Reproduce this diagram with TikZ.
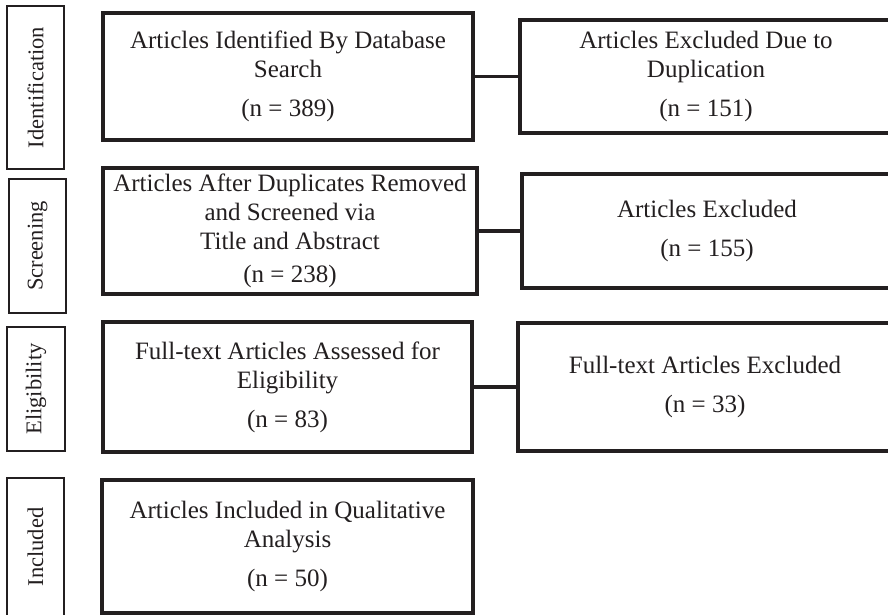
\documentclass[tikz,border=0pt]{standalone}
\usepackage{fontspec}
\setmainfont{Liberation Serif}
\definecolor{ink}{HTML}{231F20}
\begin{document}
\begin{tikzpicture}[x=1pt,y=-1pt,
  stage/.style={draw=ink, line width=1.2pt, rotate=90, inner sep=0pt, font=\fontsize{22.5}{26}\selectfont, text=ink},
  mainbox/.style={draw=ink, line width=3.5pt, inner sep=0pt, align=center, font=\fontsize{25}{29}\selectfont, text=ink},
  link/.style={draw=ink, line width=3.5pt}]
\clip (0,0) rectangle (888,615);
\fill[white] (0,0) rectangle (888,615);
% stage labels
\node[stage, minimum width=163, minimum height=57] (s1) at (35.5,87.5) {Identification};
\node[stage, minimum width=134, minimum height=57] (s2) at (37.5,246) {Screening};
\node[stage, minimum width=124, minimum height=58] (s3) at (36,389) {Eligibility};
\node[stage, minimum width=138, minimum height=57] (s4) at (35.5,547) {Included};
% left boxes
\node[mainbox, minimum width=370, minimum height=127] (b1) at (288,76.5)
  {Articles Identified By Database\\Search\\[10pt](n = 389)};
\node[mainbox, minimum width=374, minimum height=126] (b2) at (290,231)
  {Articles After Duplicates Removed\\and Screened via\\Title and Abstract\\[4pt](n = 238)};
\node[mainbox, minimum width=369, minimum height=130] (b3) at (287.5,387)
  {Full-text Articles Assessed for\\Eligibility\\[10pt](n = 83)};
\node[mainbox, minimum width=371, minimum height=133] (b4) at (287.5,546.5)
  {Articles Included in Qualitative\\Analysis\\[10pt](n = 50)};
% right boxes
\node[mainbox, minimum width=372, minimum height=113] (r1) at (706,76.5)
  {Articles Excluded Due to\\Duplication\\[10pt](n = 151)};
\node[mainbox, minimum width=370, minimum height=114] (r2) at (707,231)
  {Articles Excluded\\[10pt](n = 155)};
\node[mainbox, minimum width=374, minimum height=128] (r3) at (705,387)
  {Full-text Articles Excluded\\[10pt](n = 33)};
% connectors
\draw[link] (b1.east) -- (r1.west);
\draw[link] (b2.east) -- (r2.west);
\draw[link] (b3.east) -- (r3.west);
\end{tikzpicture}
\end{document}
